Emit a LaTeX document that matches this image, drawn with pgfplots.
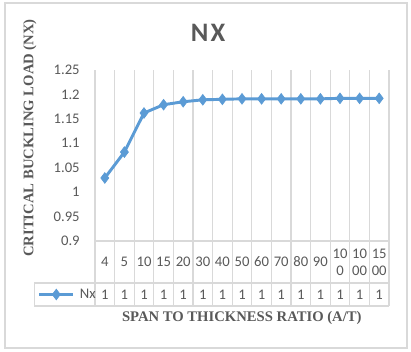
\documentclass[border=0pt]{standalone}
\usepackage{fontspec}
\setmainfont{Carlito}
\newfontfamily\serifb{Liberation Serif}
\usepackage{pgfplots}
\pgfplotsset{compat=1.18}
\definecolor{exblue}{HTML}{5B9BD5}
\definecolor{txtgray}{HTML}{595959}
\definecolor{gridgray}{HTML}{D9D9D9}
\tikzset{cat/.style={text=txtgray, font=\fontsize{11}{12.8}\selectfont, align=center, inner sep=0pt}}
\begin{document}
\begin{tikzpicture}
\useasboundingbox (-71.25pt,-82.5pt) rectangle (237pt,180.75pt);
\draw[gridgray, line width=0.8pt] (-67.5pt,-80.25pt) rectangle (234pt,178.5pt);
\begin{axis}[
  at={(0,0)}, anchor=south west,
  scale only axis,
  width=220.5pt, height=128.25pt,
  xmin=0, xmax=15, ymin=0.9, ymax=1.25,
  axis lines=none,
  clip=false,
  xtick=\empty, ytick=\empty,
  legend style={at={(axis cs:-2.93,0.7905)}, anchor=west, draw=none, fill=none,
     font=\fontsize{11}{13}\selectfont\color{txtgray}, inner sep=0pt},
  legend image code/.code={\draw[mark repeat=2,mark phase=2,#1] plot coordinates {(0pt,0pt) (12.75pt,0pt) (25.5pt,0pt)};},
]
% grid lines and data table
\pgfplotsinvokeforeach{0,...,15}{
  \draw[gridgray, line width=0.8pt] (axis cs:#1,1.25) -- (axis cs:#1,0.767);
}
\draw[gridgray, line width=0.8pt] (axis cs:0,0.9) -- (axis cs:15,0.9);
\draw[gridgray, line width=0.8pt] (axis cs:-3.11,0.814) -- (axis cs:15,0.814);
\draw[gridgray, line width=0.8pt] (axis cs:-3.11,0.767) -- (axis cs:15,0.767);
\draw[gridgray, line width=0.8pt] (axis cs:-3.11,0.814) -- (axis cs:-3.11,0.767);
% y tick labels
\pgfplotsinvokeforeach{0.9,0.95,1,1.05,1.1,1.15,1.2,1.25}{
  \node[anchor=east, text=txtgray, font=\fontsize{11}{13}\selectfont, inner sep=0pt] at (axis cs:-0.77,#1) {#1};
}
% category labels
\node[cat] at (axis cs:0.5,0.857) {4};
\node[cat] at (axis cs:1.5,0.857) {5};
\node[cat] at (axis cs:2.5,0.857) {10};
\node[cat] at (axis cs:3.5,0.857) {15};
\node[cat] at (axis cs:4.5,0.857) {20};
\node[cat] at (axis cs:5.5,0.857) {30};
\node[cat] at (axis cs:6.5,0.857) {40};
\node[cat] at (axis cs:7.5,0.857) {50};
\node[cat] at (axis cs:8.5,0.857) {60};
\node[cat] at (axis cs:9.5,0.857) {70};
\node[cat] at (axis cs:10.5,0.857) {80};
\node[cat] at (axis cs:11.5,0.857) {90};
\node[cat] at (axis cs:12.5,0.857) {10\\0};
\node[cat] at (axis cs:13.5,0.857) {10\\00};
\node[cat] at (axis cs:14.5,0.857) {15\\00};
\pgfplotsinvokeforeach{0.5,1.5,...,14.5}{
  \node[cat] at (axis cs:#1,0.7905) {1};
}
% title and axis labels
\node[text=txtgray, font=\fontsize{20}{24}\selectfont\bfseries] at (axis cs:5.77,1.326) {N\kern1.5pt X};
\node[text=txtgray, font=\serifb\fontsize{11}{13}\selectfont\bfseries] at (axis cs:7.49,0.742) {SPAN TO THICKNESS RATIO (A/T)};
\node[text=txtgray, font=\serifb\fontsize{11}{13}\selectfont\bfseries, rotate=90] at (axis cs:-3.32,1.111) {CRITICAL BUCKLING LOAD (NX)};
% data
\addplot[color=exblue, line width=2.2pt, mark=diamond*, mark size=4pt, mark options={fill=exblue, draw=exblue, line width=0.5pt}]
coordinates {
(0.5,1.029) (1.5,1.082) (2.5,1.162) (3.5,1.179) (4.5,1.185) (5.5,1.189) (6.5,1.190) (7.5,1.191) (8.5,1.191) (9.5,1.191) (10.5,1.191) (11.5,1.191) (12.5,1.192) (13.5,1.192) (14.5,1.192)
};
\addlegendentry{\,Nx}
\end{axis}
\end{tikzpicture}
\end{document}
